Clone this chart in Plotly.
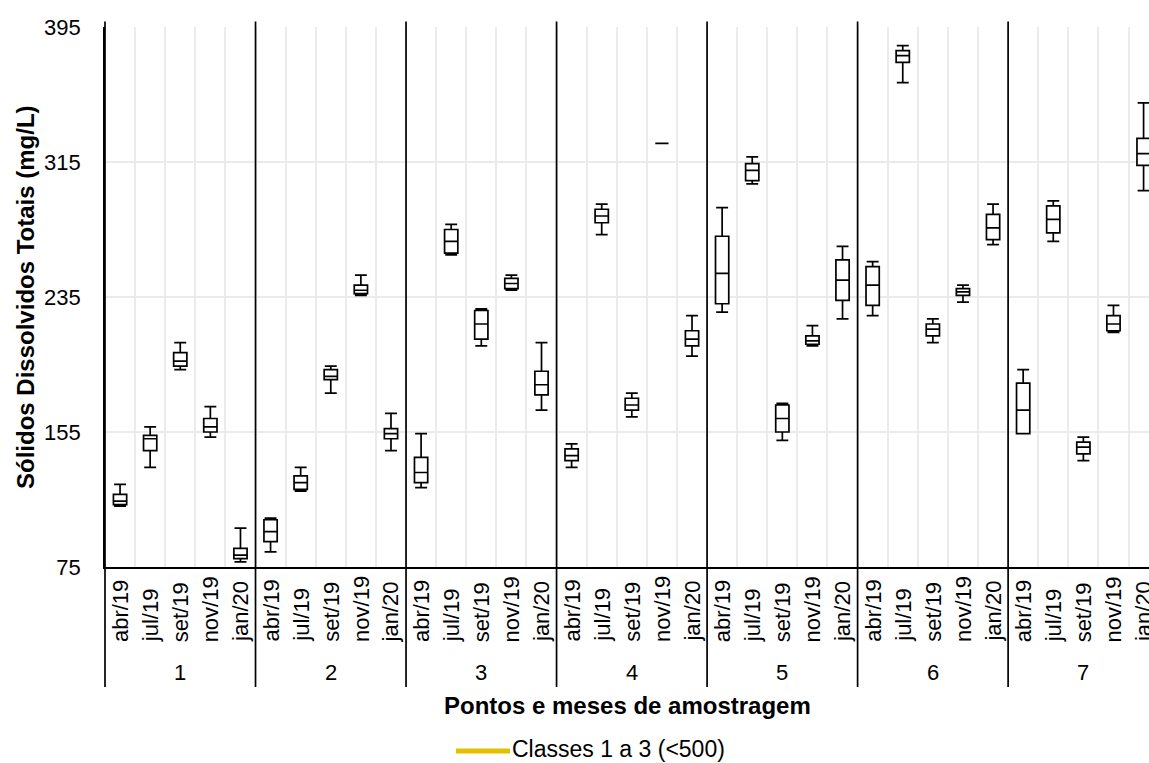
import plotly.graph_objects as go

# Sampling points and campaign months
points = ["1", "2", "3", "4", "5", "6", "7"]
months = ["abr/19", "jul/19", "set/19", "nov/19", "jan/20"]

# Box statistics per point (rows) and month (columns), TDS in mg/L
lower = [
    [111, 134, 192, 152, 78],
    [84, 120, 178, 236, 144],
    [122, 260, 206, 239, 168],
    [134, 272, 164, 326, 200],
    [226, 302, 150, 206, 222],
    [224, 362, 208, 232, 266],
    [154, 268, 138, 214, 298],
]
q1 = [
    [112, 144, 194, 155, 80],
    [90, 121, 186, 237, 151],
    [125, 261, 210, 240, 177],
    [138, 279, 168, 326, 206],
    [231, 304, 155, 207, 233],
    [230, 374, 212, 236, 269],
    [154, 273, 142, 215, 313],
]
median = [
    [114, 151, 197, 158, 82],
    [96, 125, 188, 239, 154],
    [131, 268, 219, 243, 183],
    [141, 283, 171, 326, 210],
    [249, 310, 163, 209, 245],
    [242, 378, 216, 238, 276],
    [168, 281, 146, 219, 320],
]
q3 = [
    [118, 153, 202, 163, 86],
    [103, 129, 192, 242, 157],
    [140, 275, 227, 246, 191],
    [145, 287, 175, 326, 215],
    [271, 314, 171, 212, 257],
    [253, 381, 219, 240, 284],
    [184, 289, 149, 224, 329],
]
upper = [
    [124, 158, 208, 170, 98],
    [104, 134, 194, 248, 166],
    [154, 278, 228, 248, 208],
    [148, 290, 178, 326, 224],
    [288, 318, 172, 218, 265],
    [256, 384, 222, 242, 290],
    [192, 292, 152, 230, 350],
]

y_ticks = [75, 155, 235, 315, 395]
legend_label = "Classes 1 a 3 (<500)"
x_title = "Pontos e meses de amostragem"
y_title = "Sólidos Dissolvidos Totais (mg/L)"

FONT = "Liberation Sans, Arial, sans-serif"
X_RANGE = [-0.5, 34.18]
PLOT_L, PLOT_W, PLOT_H = 105, 1044, 540  # plotting-area geometry in px

n_m = len(months)
xs, f_low, f_q1, f_med, f_q3, f_up = [], [], [], [], [], []
for i, p in enumerate(points):
    for j, m in enumerate(months):
        xs.append(i * n_m + j)
        f_low.append(lower[i][j])
        f_q1.append(q1[i][j])
        f_med.append(median[i][j])
        f_q3.append(q3[i][j])
        f_up.append(upper[i][j])

fig = go.Figure()
fig.add_trace(go.Box(
    x=xs,
    lowerfence=f_low, q1=f_q1, median=f_med, q3=f_q3, upperfence=f_up,
    fillcolor="white",
    line=dict(color="black", width=1.7),
    width=0.44,
    whiskerwidth=0.9,
    boxpoints=False,
    showlegend=False,
))


def to_paper(xv):
    return (xv - X_RANGE[0]) / (X_RANGE[1] - X_RANGE[0])


def px_x(px):
    return (px - PLOT_L) / PLOT_W


def py(px_below_axis):
    return -px_below_axis / PLOT_H


shapes = []
annotations = []
# two-level category labels: months (rotated) and sampling points
for i, p in enumerate(points):
    xb = to_paper(i * n_m - 0.5)
    shapes.append(dict(type="line", xref="paper", yref="paper", x0=xb, x1=xb,
                       y0=py(120), y1=1.01, line=dict(color="black", width=1.7)))
    annotations.append(dict(text=p, xref="paper", yref="paper",
                            x=to_paper(i * n_m + (n_m - 1) / 2), y=py(105),
                            xanchor="center", yanchor="middle", showarrow=False,
                            font=dict(family=FONT, size=22, color="black")))
    for j, m in enumerate(months):
        annotations.append(dict(text=m, textangle=-90,
                                xref="paper", yref="paper",
                                x=to_paper(i * n_m + j), y=py(76),
                                xanchor="center", yanchor="bottom",
                                showarrow=False, borderpad=0,
                                font=dict(family=FONT, size=22, color="black")))

# legend: class limit line and label
leg_y = py(749 - 567)
shapes.append(dict(type="line", xref="paper", yref="paper",
                   x0=px_x(456), x1=px_x(510), y0=py(751 - 567), y1=py(751 - 567),
                   line=dict(color="#E2C000", width=5)))
annotations.append(dict(text=legend_label, xref="paper", yref="paper",
                        x=px_x(511), y=leg_y,
                        xanchor="left", yanchor="middle", showarrow=False,
                        borderpad=0,
                        font=dict(family=FONT, size=23, color="black")))
# axis titles
annotations.append(dict(text=f"<b>{x_title}</b>",
                        xref="paper", yref="paper", x=0.5, y=py(705 - 567),
                        xanchor="center", yanchor="middle", showarrow=False,
                        font=dict(family=FONT, size=24, color="black")))
annotations.append(dict(text=f"<b>{y_title}</b>", textangle=-90,
                        xref="paper", yref="paper", x=px_x(25), y=0.5,
                        xanchor="center", yanchor="middle", showarrow=False,
                        font=dict(family=FONT, size=24, color="black")))

fig.update_layout(
    width=1149, height=763,
    margin=dict(l=PLOT_L, r=0, t=27, b=196),
    paper_bgcolor="white", plot_bgcolor="white",
    font=dict(family=FONT, size=22, color="black"),
    shapes=shapes,
    annotations=annotations,
)

fig.update_xaxes(
    type="linear",
    range=X_RANGE,
    tickmode="array", tickvals=xs,
    showticklabels=False,
    showgrid=False,
    minor=dict(tickmode="array",
               tickvals=[v + 0.5 for v in xs],
               showgrid=True, gridcolor="#EBEBEB", gridwidth=1.5, ticks=""),
    showline=True, linecolor="black", linewidth=2,
    zeroline=False,
    ticks="",
)
fig.update_yaxes(
    range=[75, 395],
    tickvals=y_ticks,
    showgrid=True, gridcolor="#EBEBEB", gridwidth=1.5,
    showline=True, linecolor="black", linewidth=1.7,
    zeroline=False,
    ticks="",
    ticklabelstandoff=18,
    tickfont=dict(family=FONT, size=22, color="black"),
)

fig.write_html("out.html")
